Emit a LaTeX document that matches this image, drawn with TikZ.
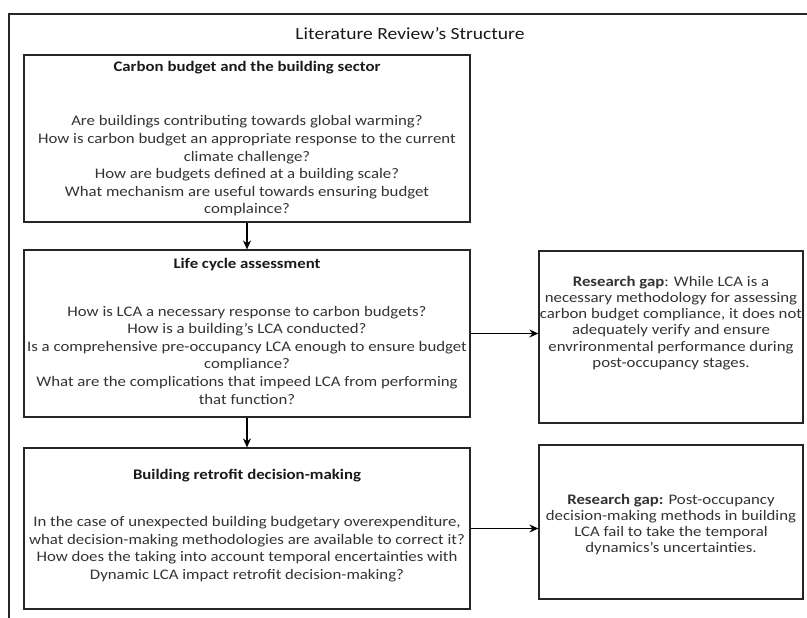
\documentclass[tikz,border=0pt]{standalone}
\usepackage{fontspec}
\setmainfont{Carlito}[FakeStretch=1.15]
\usetikzlibrary{arrows.meta}
\begin{document}
\begin{tikzpicture}[x=1pt,y=-1pt,
  frame/.style={draw=black!85, line width=1.2pt},
  box/.style={draw=black!85, line width=1.2pt, inner sep=0pt, anchor=center},
  leftbox/.style={box, minimum width=446pt},
  gapbox/.style={box, minimum width=264pt},
  ttl/.style={inner sep=0pt, anchor=center, text=black!90, font=\fontsize{14.6pt}{17.6pt}\selectfont\bfseries},
  body/.style={inner sep=0pt, anchor=center, align=center, text=black!80, font=\fontsize{14.6pt}{17.6pt}\selectfont},
  gaptext/.style={inner sep=0pt, anchor=center, align=center, text=black!80, font=\fontsize{14.6pt}{16.2pt}\selectfont},
  arr/.style={draw=black, line width=1.2pt, -{Stealth[length=9pt,width=8pt]}}
]
\useasboundingbox (0,0) rectangle (807,618);
\begin{scope}
\clip (0,0) rectangle (807,618);
\draw[frame] (9,640) -- (9,14) -- (830,14);
\end{scope}
\node[inner sep=0pt, text=black!90, font=\fontsize{17pt}{20pt}\selectfont] (title) at (410,34) {Literature Review's Structure};

\node[leftbox, minimum height=167pt] (b1) at (247,138.5) {};
\node[leftbox, minimum height=167pt] (b2) at (247,333.5) {};
\node[leftbox, minimum height=161pt] (b3) at (247,528.5) {};
\node[gapbox, minimum height=172pt] (r1) at (671,337) {};
\node[gapbox, minimum height=154pt] (r2) at (671,522) {};

\node[ttl] (t1) at (247,68) {Carbon budget and the building sector};
\node[body] (q1) at (247,166) {Are buildings contributing towards global warming?\\
How is carbon budget an appropriate response to the current\\
climate challenge?\\
How are budgets defined at a building scale?\\
What mechanism are useful towards ensuring budget\\
complaince?};

\node[ttl] (t2) at (247,265) {Life cycle assessment};
\node[body] (q2) at (247,355) {How is LCA a necessary response to carbon budgets?\\
How is a building's LCA conducted?\\
Is a comprehensive pre-occupancy LCA enough to ensure budget\\
compliance?\\
What are the complications that impeed LCA from performing\\
that function?};

\node[ttl] (t3) at (247,476) {Building retrofit decision-making};
\node[body] (q3) at (247,549) {In the case of unexpected building budgetary overexpenditure,\\
what decision-making methodologies are available to correct it?\\
How does the taking into account temporal encertainties with\\
Dynamic LCA impact retrofit decision-making?};

\node[gaptext] (g1) at (671,323) {\textbf{Research gap}: While LCA is a\\
necessary methodology for assessing\\
carbon budget compliance, it does not\\
adequately verify and ensure\\
envrironmental performance during\\
post-occupancy stages.};

\node[gaptext] (g2) at (671,524.5) {\textbf{Research gap:} Post-occupancy\\
decision-making methods in building\\
LCA fail to take the temporal\\
dynamics's uncertainties.};

\draw[arr] (b1.south) -- (b2.north);
\draw[arr] (b2.south) -- (b3.north);
\draw[arr] (b2.east) -- (b2.east -| r1.west);
\draw[arr] (b3.east) -- (b3.east -| r2.west);
\end{tikzpicture}
\end{document}
